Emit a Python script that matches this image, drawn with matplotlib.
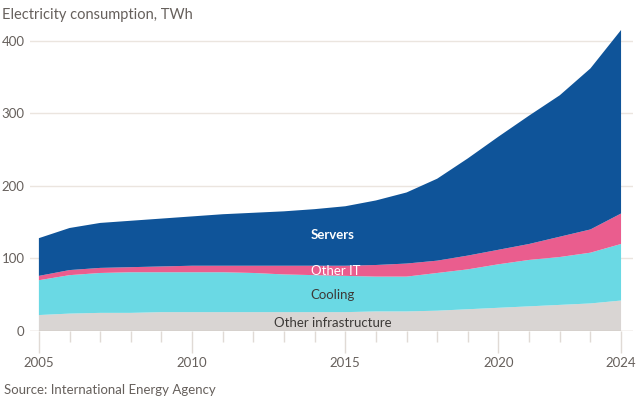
import numpy as np
import matplotlib.pyplot as plt

years = list(range(2005, 2025))
# layer values, TWh (stacked from the bottom)
infrastructure = [22, 24, 25, 25, 26, 26, 26, 26, 26, 26, 26, 27, 27, 28, 30, 32, 34, 36, 38, 42]
cooling = [48, 53, 55, 56, 55, 55, 55, 54, 52, 51, 50, 48, 48, 52, 55, 60, 64, 66, 70, 78]
other_it = [6, 7, 7, 7, 8, 9, 9, 10, 12, 13, 14, 16, 18, 17, 19, 20, 22, 28, 32, 42]
servers = [52, 58, 62, 64, 66, 68, 71, 73, 75, 78, 82, 89, 98, 113, 134, 156, 177, 195, 222, 253]

y_ticks = [0, 100, 200, 300, 400]
x_ticks = [2005, 2010, 2015, 2020, 2024]

colors = ["#d9d5d3", "#6ad9e4", "#ea5d8e", "#0f5499"]
grid_col = "#ebe5df"
text_col = "#66605c"

plt.rcParams["font.family"] = ["Lato", "DejaVu Sans"]

fig = plt.figure(figsize=(6.38, 3.97), dpi=100)
ax = fig.add_axes([30 / 638, 1 - 331 / 397, 603 / 638, 301 / 397])

ax.stackplot(years, infrastructure, cooling, other_it, servers,
             colors=colors, linewidth=0, zorder=2)

ax.set_xlim(2004.71, 2024.39)
ax.set_ylim(0, 415)

for s in ax.spines.values():
    s.set_visible(False)
ax.axhline(0, color="#ccc1b7", lw=1, zorder=3)
for t in y_ticks[1:]:
    ax.axhline(t, color=grid_col, lw=1, zorder=1)

ax.set_yticks(y_ticks)
ax.set_yticklabels([str(t) for t in y_ticks])
ax.tick_params(axis="y", length=0, pad=4, labelsize=9.5, labelcolor=text_col)

ax.set_xticks(x_ticks)
ax.set_xticks(years, minor=True)
ax.tick_params(axis="x", which="major", length=16, width=1, color="#e0dad5",
               labelsize=9.5, labelcolor=text_col, pad=3)
ax.tick_params(axis="x", which="minor", length=8, width=1, color="#e0dad5")

ax.text(2014.6, 132, "Servers", color="white", fontsize=9.5, fontweight="bold",
        ha="center", va="center", zorder=4)
ax.text(2014.7, 83, "Other IT", color="white", fontsize=9.5,
        ha="center", va="center", zorder=4)
ax.text(2014.6, 50, "Cooling", color="#3d3a38", fontsize=9.5,
        ha="center", va="center", zorder=4)
ax.text(2014.6, 11, "Other infrastructure", color="#3d3a38", fontsize=9.5,
        ha="center", va="center", zorder=4)

fig.text(2 / 638, 1 - 15 / 397, "Electricity consumption, TWh", color=text_col,
         fontsize=10.5, ha="left", va="center")
fig.text(4 / 638, 1 - 390 / 397, "Source: International Energy Agency", color=text_col,
         fontsize=9.5, ha="left", va="center")

fig.savefig("out.png", dpi=100)
